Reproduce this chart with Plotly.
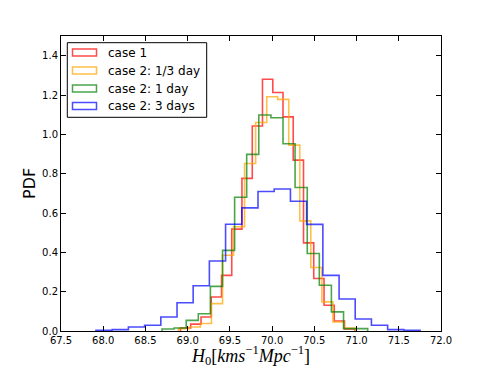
import plotly.graph_objects as go

# histogram bin edges and normalised counts (PDF)
red_edges = [68.915, 69.036, 69.158, 69.279, 69.401, 69.522, 69.643, 69.765, 69.886,
             70.008, 70.129, 70.250, 70.372, 70.493, 70.615, 70.736, 70.857, 70.979]
red_pdf = [0.015, 0.035, 0.071, 0.173, 0.283, 0.518, 0.776, 1.042, 1.28,
           1.213, 1.089, 0.869, 0.448, 0.267, 0.131, 0.051, 0.01]

orange_edges = [68.890, 69.021, 69.151, 69.282, 69.413, 69.544, 69.674, 69.805, 69.936,
                70.066, 70.197, 70.328, 70.458, 70.589, 70.720, 70.851, 70.981]
orange_pdf = [0.012, 0.02, 0.038, 0.139, 0.385, 0.53, 0.852, 1.06,
              1.191, 1.178, 0.945, 0.56, 0.323, 0.148, 0.046, 0.015]

green_edges = [68.696, 68.839, 68.983, 69.126, 69.269, 69.413, 69.556, 69.699, 69.842,
               69.986, 70.129, 70.272, 70.416, 70.559, 70.702, 70.846, 70.989, 71.132]
green_pdf = [0.01, 0.015, 0.054, 0.088, 0.227, 0.41, 0.68, 0.898, 1.098,
             1.084, 0.952, 0.73, 0.394, 0.233, 0.097, 0.012, 0.012]

blue_edges = [67.914, 68.106, 68.298, 68.490, 68.682, 68.874, 69.065, 69.257, 69.449,
              69.641, 69.833, 70.025, 70.217, 70.409, 70.601, 70.793, 70.984, 71.176,
              71.368, 71.560, 71.752]
blue_pdf = [0.004, 0.007, 0.02, 0.029, 0.071, 0.144, 0.23, 0.356, 0.543, 0.626,
            0.709, 0.722, 0.66, 0.542, 0.283, 0.163, 0.061, 0.029, 0.007, 0.004]

labels = ["case 1", "case 2: 1/3 day", "case 2: 1 day", "case 2: 3 days"]
colors = ["#ff0000", "#ffa500", "#008000", "#0000ff"]

series = [(red_edges, red_pdf), (orange_edges, orange_pdf),
          (green_edges, green_pdf), (blue_edges, blue_pdf)]

fig = go.Figure()
for (edges, pdf), name, c in zip(series, labels, colors):
    # step outline like matplotlib histtype='step'
    xs = [edges[0]] + edges
    ys = [0] + pdf + [0]
    fig.add_trace(go.Scatter(x=xs, y=ys, mode="lines", name=name,
                             line=dict(color=c, width=1.6, shape="hv"),
                             opacity=0.7, showlegend=False))

# the page body has an 8px margin, so the figure is drawn 8px in from the corner
OFF = 8
W, H = 491 - OFF, 368 - OFF
# plot area in screen pixels: left 61, right 441, top 36, bottom 331
L, R, T, B = 61, 441, 36, 331
def px(x):
    return (x - L) / (R - L)
def py(y):
    return (B - y) / (B - T)

# legend drawn by hand (matplotlib style boxes)
fig.add_shape(type="rect", xref="paper", yref="paper",
              x0=px(67.3), x1=px(206.7), y0=py(117.3), y1=py(42.7),
              line=dict(color="black", width=1), fillcolor="white", layer="above")
rows = [52.5, 70.5, 88.5, 106]
for r, name, c in zip(rows, labels, colors):
    fig.add_shape(type="rect", xref="paper", yref="paper",
                  x0=px(72.5), x1=px(96.5), y0=py(r + 3.5), y1=py(r - 3.5),
                  line=dict(color=c, width=1.5), opacity=0.7, layer="above")
    fig.add_annotation(xref="paper", yref="paper", x=px(106), y=py(r),
                       text=name, showarrow=False, xanchor="left", yanchor="middle",
                       font=dict(family="DejaVu Sans", size=12, color="black"))

# axis titles
fig.add_annotation(xref="paper", yref="paper", x=px(250), y=py(355),
                   text="<i>H</i><sub>0</sub>[<i>kms</i><sup>−1</sup><i>Mpc</i><sup>−1</sup>]",
                   showarrow=False, xanchor="center", yanchor="middle",
                   font=dict(family="Liberation Serif", size=18, color="black"))
fig.add_annotation(xref="paper", yref="paper", x=px(29), y=py(184),
                   text="PDF", textangle=-90, showarrow=False,
                   xanchor="center", yanchor="middle",
                   font=dict(family="DejaVu Sans", size=16, color="black"))

axis_common = dict(showline=True, linecolor="black", linewidth=1, mirror="ticks",
                   ticks="inside", ticklen=5, tickcolor="black", showgrid=False,
                   zeroline=False, automargin=False,
                   tickfont=dict(family="DejaVu Sans", size=10, color="black"))

fig.update_layout(
    width=W, height=H,
    margin=dict(l=L - OFF, r=491 - R, t=T - OFF, b=368 - B),
    paper_bgcolor="white", plot_bgcolor="white",
    xaxis=dict(range=[67.5, 72.0], dtick=0.5, tick0=67.5, tickformat=".1f", **axis_common),
    yaxis=dict(range=[0, 1.5], dtick=0.2, tick0=0, tickformat=".1f", **axis_common),
)

fig.write_html("out.html")
